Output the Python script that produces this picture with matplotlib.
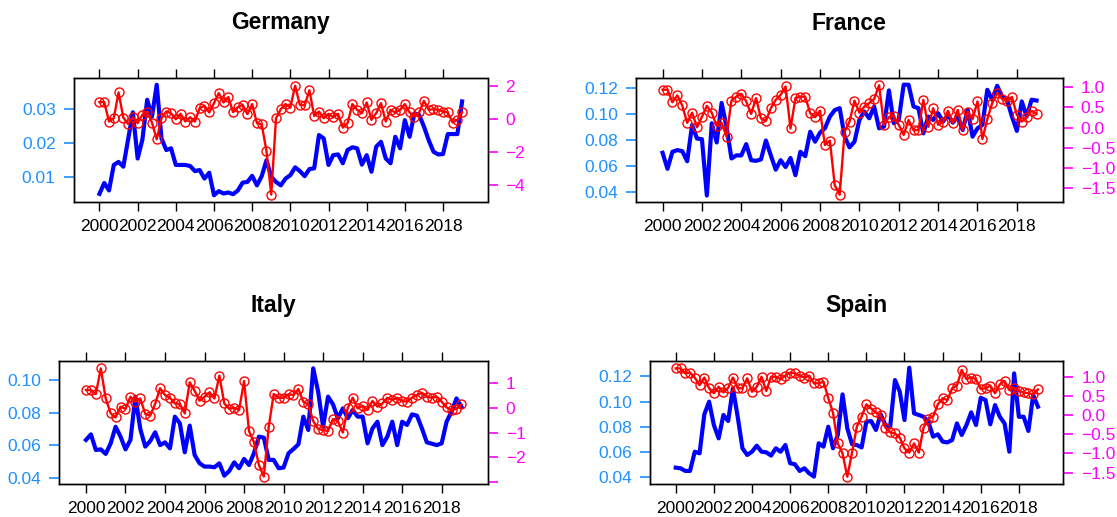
import numpy as np
import matplotlib
matplotlib.use('Agg')
import matplotlib.pyplot as plt
from matplotlib.ticker import FixedLocator, FixedFormatter

plt.rcParams['font.family'] = ['Liberation Sans', 'DejaVu Sans']

# quarterly observations 2000Q1 .. 2019Q1
quarters = 2000 + np.arange(77) * 0.25

germany_blue = [0.0050, 0.0082, 0.0060, 0.0135, 0.0144, 0.0130, 0.0210, 0.0290,
                0.0154, 0.0210, 0.0327, 0.0277, 0.0371, 0.0213, 0.0179, 0.0184,
                0.0135, 0.0135, 0.0135, 0.0132, 0.0117, 0.0120, 0.0095, 0.0112,
                0.0046, 0.0058, 0.0051, 0.0054, 0.0049, 0.0060, 0.0083, 0.0085,
                0.0103, 0.0075, 0.0102, 0.0149, 0.0100, 0.0085, 0.0075, 0.0095,
                0.0105, 0.0128, 0.0117, 0.0102, 0.0123, 0.0125, 0.0223, 0.0213,
                0.0135, 0.0164, 0.0166, 0.0140, 0.0179, 0.0187, 0.0184, 0.0136,
                0.0164, 0.0115, 0.0189, 0.0203, 0.0154, 0.0140, 0.0218, 0.0184,
                0.0267, 0.0218, 0.0287, 0.0282, 0.0248, 0.0208, 0.0174, 0.0166,
                0.0167, 0.0226, 0.0226, 0.0226, 0.0322]
germany_red = [1.04, 1.04, -0.14, 0.06, 1.63, 0.10, -0.29, 0.12,
               -0.24, 0.27, 0.47, -0.20, -1.22, 0.06, 0.47, 0.37,
               0.00, 0.33, -0.14, 0.12, -0.14, 0.67, 0.82, 0.41,
               0.98, 1.59, 1.02, 1.35, 0.43, 0.73, 0.88, 0.31,
               0.92, -0.24, -0.31, -1.94, -4.59, 0.06, 0.61, 0.92,
               0.71, 2.04, 0.88, 0.84, 1.76, 0.20, 0.47, 0.06,
               0.33, 0.12, 0.33, -0.51, -0.24, 0.92, 0.57, 0.37,
               1.02, -0.04, 0.37, 0.98, -0.14, 0.57, 0.41, 0.57,
               0.92, 0.41, 0.16, 0.41, 1.12, 0.57, 0.61, 0.57,
               0.47, 0.41, -0.20, -0.04, 0.43]

france_blue = [0.0700, 0.0576, 0.0708, 0.0721, 0.0713, 0.0635, 0.0915, 0.0810,
               0.0805, 0.0370, 0.0928, 0.0780, 0.1085, 0.0900, 0.0656, 0.0680,
               0.0680, 0.0767, 0.0643, 0.0638, 0.0649, 0.0795, 0.0680, 0.0570,
               0.0643, 0.0590, 0.0660, 0.0527, 0.0708, 0.0674, 0.0863, 0.0786,
               0.0856, 0.0890, 0.0980, 0.1030, 0.1045, 0.0825, 0.0742, 0.0786,
               0.0954, 0.1019, 0.0967, 0.1058, 0.0889, 0.0902, 0.1182, 0.0928,
               0.0954, 0.1226, 0.1226, 0.1058, 0.1045, 0.0850, 0.0980, 0.0954,
               0.1006, 0.0941, 0.0993, 0.0933, 0.0980, 0.0876, 0.1032, 0.0825,
               0.0889, 0.0915, 0.1187, 0.1110, 0.1218, 0.1135, 0.1110, 0.0980,
               0.0869, 0.1097, 0.0980, 0.1110, 0.1104]
france_red = [0.94, 0.94, 0.63, 0.80, 0.55, 0.12, 0.37, 0.01,
              0.27, 0.54, 0.37, 0.04, 0.12, -0.22, 0.67, 0.77,
              0.84, 0.65, 0.34, 0.73, 0.23, 0.17, 0.48, 0.69,
              0.81, 1.02, -0.02, 0.73, 0.77, 0.76, 0.36, 0.26,
              0.42, -0.43, -0.32, -1.43, -1.66, -0.10, 0.15, 0.67,
              0.37, 0.52, 0.61, 0.71, 1.05, 0.07, 0.26, 0.29,
              0.07, -0.18, 0.19, -0.06, -0.06, 0.69, 0.02, 0.48,
              0.07, 0.15, 0.42, 0.11, 0.44, -0.06, 0.40, 0.21,
              0.65, -0.28, 0.21, 0.61, 0.86, 0.71, 0.65, 0.76,
              0.32, 0.15, 0.27, 0.42, 0.34]

italy_blue = [0.0632, 0.0666, 0.0570, 0.0574, 0.0546, 0.0611, 0.0713, 0.0652,
              0.0574, 0.0632, 0.0898, 0.0699, 0.0591, 0.0625, 0.0679, 0.0600,
              0.0617, 0.0580, 0.0775, 0.0734, 0.0556, 0.0720, 0.0539, 0.0488,
              0.0468, 0.0468, 0.0464, 0.0488, 0.0412, 0.0441, 0.0494, 0.0458,
              0.0515, 0.0478, 0.0550, 0.0652, 0.0646, 0.0509, 0.0509, 0.0458,
              0.0462, 0.0550, 0.0576, 0.0605, 0.0775, 0.0693, 0.1072, 0.0928,
              0.0713, 0.0898, 0.0851, 0.0765, 0.0826, 0.0765, 0.0816, 0.0775,
              0.0775, 0.0611, 0.0703, 0.0744, 0.0600, 0.0652, 0.0744, 0.0600,
              0.0744, 0.0724, 0.0789, 0.0781, 0.0703, 0.0617, 0.0609, 0.0600,
              0.0611, 0.0744, 0.0806, 0.0887, 0.0836]
italy_red = [0.71, 0.71, 0.55, 1.58, 0.37, -0.23, -0.39, 0.04,
             -0.05, 0.44, 0.24, 0.37, -0.25, -0.32, 0.15, 0.78,
             0.51, 0.40, 0.17, 0.15, -0.23, 1.02, 0.68, 0.28,
             0.44, 0.62, 0.37, 1.29, 0.17, -0.05, 0.00, -0.09,
             1.07, -0.94, -1.39, -2.30, -2.77, -0.76, 0.55, 0.40,
             0.40, 0.54, 0.51, 0.75, 0.24, 0.13, -0.54, -0.86,
             -0.90, -0.94, -0.46, -0.54, -1.00, 0.00, 0.40, -0.03,
             0.08, -0.09, 0.27, 0.04, 0.17, 0.40, 0.31, 0.40,
             0.27, 0.24, 0.40, 0.51, 0.60, 0.44, 0.40, 0.44,
             0.24, 0.01, -0.09, -0.05, 0.13]

spain_blue = [0.0474, 0.0469, 0.0448, 0.0448, 0.0601, 0.0588, 0.0898, 0.0999,
              0.0813, 0.0707, 0.0893, 0.0845, 0.1105, 0.0879, 0.0628, 0.0575,
              0.0601, 0.0649, 0.0601, 0.0596, 0.0570, 0.0628, 0.0601, 0.0654,
              0.0509, 0.0501, 0.0448, 0.0469, 0.0429, 0.0403, 0.0668, 0.0641,
              0.0800, 0.0628, 0.0734, 0.1057, 0.0787, 0.0660, 0.0654, 0.0635,
              0.0840, 0.0845, 0.0774, 0.0898, 0.0813, 0.0800, 0.1171, 0.1079,
              0.0853, 0.1269, 0.0906, 0.0893, 0.0879, 0.0840, 0.0721, 0.0739,
              0.0681, 0.0675, 0.0694, 0.0826, 0.0734, 0.0813, 0.0914, 0.0813,
              0.1030, 0.1012, 0.0819, 0.0972, 0.0879, 0.0826, 0.0601, 0.1224,
              0.0879, 0.0879, 0.0766, 0.1052, 0.0959]
spain_red = [1.22, 1.22, 1.09, 1.11, 0.98, 0.78, 0.98, 0.70,
             0.57, 0.74, 0.59, 0.71, 0.98, 0.70, 0.70, 0.96,
             0.61, 0.74, 1.00, 0.63, 1.00, 1.00, 0.94, 1.03,
             1.11, 1.09, 1.03, 0.98, 1.03, 0.83, 0.83, 0.87,
             0.45, 0.06, -0.74, -1.00, -1.61, -0.98, -0.30, -0.04,
             0.28, 0.17, 0.07, 0.00, -0.33, -0.45, -0.48, -0.59,
             -0.87, -0.98, -0.74, -0.98, -0.33, -0.09, -0.04, 0.28,
             0.44, 0.39, 0.70, 0.77, 1.18, 0.94, 0.98, 0.94,
             0.68, 0.70, 0.77, 0.57, 0.80, 0.89, 0.65, 0.70,
             0.63, 0.59, 0.57, 0.54, 0.67]

year_ticks = list(range(2000, 2019, 2))

W, H = 1117, 517
fig = plt.figure(figsize=(W / 100, H / 100), dpi=100)


def panel(box, title, blue, red, ylim_l, ylim_r, lticks, lfmt, rticks, rlabels):
    # box given in pixels: left, top, right, bottom
    l, t, r, b = box
    ax = fig.add_axes([l / W, 1 - b / H, (r - l) / W, (b - t) / H])
    ax.plot(quarters, blue, color='#0000ff', lw=3.0, solid_joinstyle='round')
    ax.set_xlim(1998.65, 2020.33)
    ax.set_ylim(*ylim_l)
    ax.set_xticks(year_ticks)
    ax.set_xticklabels([str(y) for y in year_ticks])
    ax.set_yticks(lticks)
    ax.set_yticklabels([lfmt % v for v in lticks])
    ax.tick_params(axis='x', top=True, bottom=True, direction='out',
                   length=6.5, width=1.0, pad=6, labelsize=12.5,
                   colors='black')
    ax.tick_params(axis='y', left=True, direction='out', length=7,
                   width=1.2, pad=6, labelsize=12.5, colors='#1e90ff')

    ax2 = ax.twinx()
    ax2.plot(quarters, red, color='#ff0000', lw=1.7, marker='o', ms=6.5,
             mfc='none', mec='#ff0000', mew=1.0)
    ax2.set_ylim(*ylim_r)
    ax2.yaxis.set_major_locator(FixedLocator(rticks))
    ax2.yaxis.set_major_formatter(FixedFormatter(rlabels))
    ax2.tick_params(axis='y', right=True, direction='out', length=7,
                    width=1.2, pad=6, labelsize=12.5, colors='#ff00ff')
    for a in (ax, ax2):
        for s in a.spines.values():
            s.set_color('black')
            s.set_linewidth(1.0)

    fig.text((l + r) / 2 / W, 1 - (t - 55) / H, title, ha='center',
             va='center', fontsize=16.5, fontweight='bold')


panel((73.7, 78, 487.5, 202), 'Germany', germany_blue, germany_red,
      (0.0026, 0.0391), (-5.04, 2.51),
      [0.01, 0.02, 0.03], '%.2f',
      [-4, -2, 0, 2], ['\u22124', '\u22122', '0', '2'])

panel((636, 78, 1062.7, 202), 'France', france_blue, france_red,
      (0.032, 0.1278), (-1.84, 1.23),
      [0.04, 0.06, 0.08, 0.10, 0.12], '%.2f',
      [-1.5, -1.0, -0.5, 0.0, 0.5, 1.0],
      ['\u22121.5', '\u22121.0', '\u22120.5', '0.0', '0.5', '1.0'])

panel((59.3, 360.7, 487.7, 484), 'Italy', italy_blue, italy_red,
      (0.0361, 0.1119), (-3.07, 1.89),
      [0.04, 0.06, 0.08, 0.10], '%.2f',
      [-3, -2, -1, 0, 1], ['', '\u22122', '\u22121', '0', '1'])

panel((650, 360.7, 1063.3, 484), 'Spain', spain_blue, spain_red,
      (0.0344, 0.1325), (-1.80, 1.42),
      [0.04, 0.06, 0.08, 0.10, 0.12], '%.2f',
      [-1.5, -1.0, -0.5, 0.0, 0.5, 1.0],
      ['\u22121.5', '\u22121.0', '\u22120.5', '0.0', '0.5', '1.0'])

fig.savefig('out.png', dpi=100)
